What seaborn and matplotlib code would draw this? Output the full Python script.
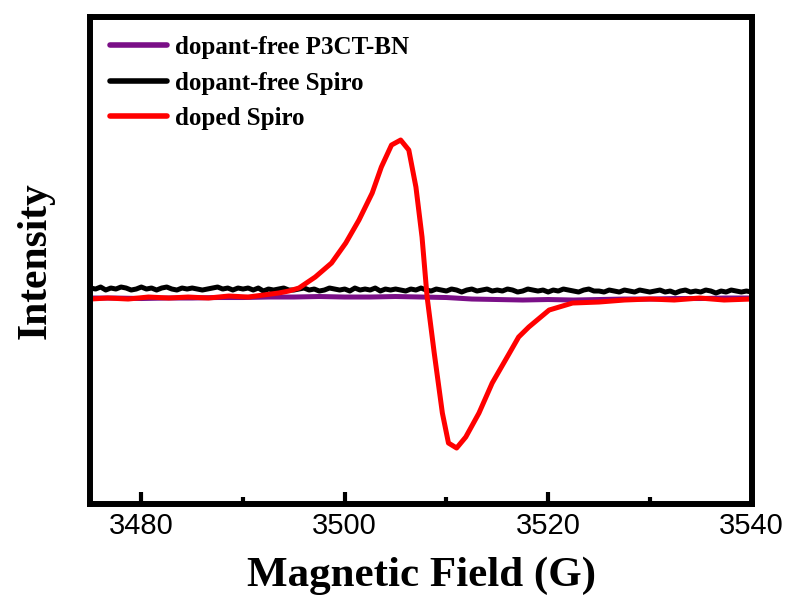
import numpy as np
import pandas as pd
import matplotlib
matplotlib.use("Agg")
import matplotlib.pyplot as plt
from matplotlib.ticker import MultipleLocator
import seaborn as sns

# ---- data (intensity in arbitrary units, baseline ~0) ----
series_names = ["dopant-free P3CT-BN", "dopant-free Spiro", "doped Spiro"]
series_colors = ["#7a0f87", "#000000", "#ff0000"]

# dopant-free P3CT-BN (every 2.5 G from 3475 to 3540)
p3ct_field = [3475, 3477.5, 3480, 3482.5, 3485, 3487.5, 3490, 3492.5, 3495, 3497.5,
              3500, 3502.5, 3505, 3507.5, 3510, 3512.5, 3515, 3517.5, 3520, 3522.5,
              3525, 3527.5, 3530, 3532.5, 3535, 3537.5, 3540]
p3ct_int = [-1, -1, -1.5, -1, -1, -0.5, -0.5, 0, 0, 0.5,
            0, 0, 0.5, 0, -0.5, -2, -2.5, -3, -2.5, -3,
            -2.5, -2, -2, -1.5, -1.5, -1, -1]

# dopant-free Spiro (every 0.5 G from 3475 to 3540)
spiro_free_int = [
    9, 8, 10, 7, 9, 8, 10, 9, 7, 8,
    10, 8, 9, 7, 9, 10, 8, 7, 9, 8,
    9, 8, 7, 8, 9, 10, 8, 9, 7, 9,
    8, 9, 7, 9, 6, 8, 7, 8, 9, 7,
    7, 8, 9, 7, 8, 6, 7, 9, 8, 7,
    8, 6, 9, 7, 8, 7, 9, 6, 8, 7,
    8, 7, 6, 8, 7, 9, 7, 6, 8, 7,
    6, 8, 7, 5, 7, 8, 6, 7, 8, 6,
    7, 6, 8, 7, 5, 6, 8, 7, 6, 7,
    5, 7, 6, 8, 7, 6, 5, 7, 8, 6,
    6, 5, 7, 6, 5, 7, 6, 5, 7, 6,
    5, 6, 7, 5, 6, 4, 6, 7, 5, 6,
    5, 7, 6, 4, 6, 5, 7, 6, 5, 6,
    5]
spiro_free_field = list(np.linspace(3475, 3540, len(spiro_free_int)))

# doped Spiro
spiro_doped_field = [3475.0, 3476.7, 3478.7, 3480.7, 3482.7, 3484.6, 3486.6, 3488.6,
                     3490.5, 3492.0, 3493.5, 3494.5, 3495.5, 3497.1, 3498.7, 3500.1,
                     3501.4, 3502.7, 3503.6, 3504.6, 3505.5, 3506.3, 3507.0, 3507.6,
                     3508.1, 3508.8, 3509.6, 3510.2, 3511.0, 3511.9, 3513.2, 3514.5,
                     3516.2, 3517.1, 3518.1, 3520.1, 3522.4, 3525.0, 3527.5, 3530.0,
                     3532.4, 3534.9, 3537.3, 3540.0]
spiro_doped_int = [-2, -1, -2, 0, -1, 0, -1, 1,
                   0, 2, 4, 6, 9, 20, 34, 54,
                   77, 104, 130, 152, 157, 147, 110, 60,
                   0, -56, -116, -146, -151, -140, -116, -86,
                   -56, -40, -30, -13, -6, -5, -3, -2,
                   -3, -1, -3, -2]

x_ticks = [3480, 3500, 3520, 3540]
x_label = "Magnetic Field (G)"
y_label = "Intensity"

# ---- build long table ----
frames = []
for name, fx, fy in zip(series_names,
                        [p3ct_field, spiro_free_field, spiro_doped_field],
                        [p3ct_int, spiro_free_int, spiro_doped_int]):
    frames.append(pd.DataFrame({"field": fx, "intensity": fy, "sample": name}))
df = pd.concat(frames, ignore_index=True)

# ---- plot ----
sns.set_style("white")
plt.rcParams["font.family"] = ["Liberation Serif", "DejaVu Serif"]
plt.rcParams["text.color"] = "black"
plt.rcParams["axes.labelcolor"] = "black"
plt.rcParams["xtick.color"] = "black"
plt.rcParams["xtick.labelcolor"] = "black"

fig = plt.figure(figsize=(7.91, 6.08), dpi=100)
ax = fig.add_axes([0.1144, 0.1715, 0.8357, 0.801])

sns.lineplot(data=df, x="field", y="intensity", hue="sample",
             hue_order=series_names, palette=series_colors,
             linewidth=3.6, ax=ax, estimator=None, sort=True)

ax.set_xlim(3475, 3540)
ax.set_ylim(-206.7, 280.3)
ax.set_xticks(x_ticks)
ax.xaxis.set_minor_locator(MultipleLocator(10))
ax.set_yticks([])

for sp in ax.spines.values():
    sp.set_linewidth(4.3)
    sp.set_color("black")

ax.tick_params(axis="x", which="major", direction="in", length=9, width=3,
               pad=6, bottom=True, top=False, labelsize=21, colors="black")
ax.tick_params(axis="x", which="minor", direction="in", length=5, width=3,
               bottom=True, top=False, colors="black")
for lab in ax.get_xticklabels():
    lab.set_fontfamily(["Liberation Sans", "DejaVu Sans"])
    lab.set_color("black")

ax.set_xlabel(x_label, fontsize=31, fontweight="bold", labelpad=12, color="black")
ax.set_ylabel(y_label, fontsize=30, fontweight="bold", labelpad=26, color="black")

leg = ax.legend(loc="upper left", bbox_to_anchor=(0.0295, 0.960), frameon=False,
                borderaxespad=0, borderpad=0, handlelength=2.3, handletextpad=0.3,
                labelspacing=0.5, prop={"family": "Liberation Serif",
                                        "weight": "bold", "size": 18})
for h in leg.get_lines():
    h.set_linewidth(4)
for t in leg.get_texts():
    t.set_color("black")

fig.savefig("out.png", dpi=100)
